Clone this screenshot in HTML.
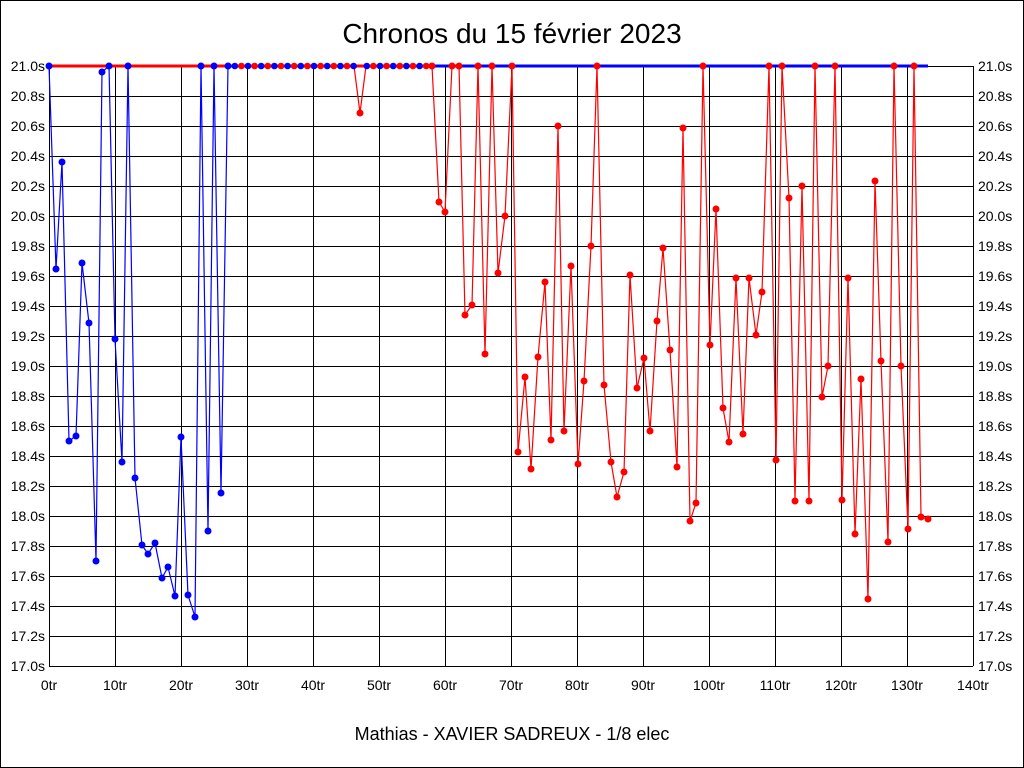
<!DOCTYPE html>
<html><head><meta charset="utf-8"><style>
html,body{margin:0;padding:0;background:#fff}
svg{display:block}
text{font-family:"Liberation Sans",sans-serif;font-size:14px;fill:#000}
</style></head><body>
<svg id="s" width="1024" height="768" viewBox="0 0 1024 768" xmlns="http://www.w3.org/2000/svg">
<rect x="0.5" y="0.5" width="1023" height="767" fill="#fff" stroke="#000"/>
<g id="grid"></g>
<text x="512" y="43" text-anchor="middle" style="font-size:28px">Chronos du 15 février 2023</text>
<text x="512" y="740" text-anchor="middle" style="font-size:18px">Mathias - XAVIER SADREUX - 1/8 elec</text>
<g text-anchor="end">
<text x="45" y="71">21.0s</text><text x="45" y="101">20.8s</text><text x="45" y="131">20.6s</text><text x="45" y="161">20.4s</text><text x="45" y="191">20.2s</text><text x="45" y="221">20.0s</text><text x="45" y="251">19.8s</text><text x="45" y="281">19.6s</text><text x="45" y="311">19.4s</text><text x="45" y="341">19.2s</text><text x="45" y="371">19.0s</text><text x="45" y="401">18.8s</text><text x="45" y="431">18.6s</text><text x="45" y="461">18.4s</text><text x="45" y="491">18.2s</text><text x="45" y="521">18.0s</text><text x="45" y="551">17.8s</text><text x="45" y="581">17.6s</text><text x="45" y="611">17.4s</text><text x="45" y="641">17.2s</text><text x="45" y="671">17.0s</text>
</g>
<g>
<text x="978" y="71">21.0s</text><text x="978" y="101">20.8s</text><text x="978" y="131">20.6s</text><text x="978" y="161">20.4s</text><text x="978" y="191">20.2s</text><text x="978" y="221">20.0s</text><text x="978" y="251">19.8s</text><text x="978" y="281">19.6s</text><text x="978" y="311">19.4s</text><text x="978" y="341">19.2s</text><text x="978" y="371">19.0s</text><text x="978" y="401">18.8s</text><text x="978" y="431">18.6s</text><text x="978" y="461">18.4s</text><text x="978" y="491">18.2s</text><text x="978" y="521">18.0s</text><text x="978" y="551">17.8s</text><text x="978" y="581">17.6s</text><text x="978" y="611">17.4s</text><text x="978" y="641">17.2s</text><text x="978" y="671">17.0s</text>
</g>
<g text-anchor="middle">
<text x="49" y="690">0tr</text><text x="115" y="690">10tr</text><text x="181" y="690">20tr</text><text x="247" y="690">30tr</text><text x="313" y="690">40tr</text><text x="379" y="690">50tr</text><text x="445" y="690">60tr</text><text x="511" y="690">70tr</text><text x="577" y="690">80tr</text><text x="643" y="690">90tr</text><text x="709" y="690">100tr</text><text x="775" y="690">110tr</text><text x="841" y="690">120tr</text><text x="907" y="690">130tr</text><text x="973" y="690">140tr</text>
</g>
<g id="data"></g>
</svg>
<script>
var NS="http://www.w3.org/2000/svg";
function el(p,t,a){var e=document.createElementNS(NS,t);for(var k in a)e.setAttribute(k,a[k]);p.appendChild(e);return e;}
var g=document.getElementById('grid');
for(var i=0;i<=20;i++){var y=66.5+i*30;el(g,'line',{x1:49,x2:973,y1:y,y2:y,stroke:'#000','stroke-width':1});}
for(var i=0;i<=14;i++){var x=49.5+i*66;el(g,'line',{x1:x,x2:x,y1:66,y2:666,stroke:'#000','stroke-width':1});}
var d=document.getElementById('data');
function X(i){return 49+6.6*i;}
var blue=[[49,66],[56,269],[62,162],[69,441],[76,436],[82,263],[89,323],[96,561],[102,72],[109,66],[115,339],[122,462],[128,66],[135,478],[142,545],[148,554],[155,543],[162,578],[168,567],[175,596],[181,437],[188,595],[195,617],[201,66],[208,531],[214,66],[221,493],[228,66]];
var red=[[432,66],[439,202],[445,212],[452,66],[459,66],[465,315],[472,305],[478,66],[485,354],[492,66],[498,273],[505,216],[512,66],[518,452],[525,377],[531,469],[538,357],[545,282],[551,440],[558,126],[564,431],[571,266],[578,464],[584,381],[591,246],[597,66],[604,385],[611,462],[617,497],[624,472],[630,275],[637,388],[644,358],[650,431],[657,321],[663,248],[670,350],[677,467],[683,128],[690,521],[696,503],[703,66],[710,345],[716,209],[723,408],[729,442],[736,278],[743,434],[749,278],[756,335],[762,292],[769,66],[776,460],[782,66],[789,198],[795,501],[802,186],[809,501],[815,66],[822,397],[828,366],[835,66],[842,500],[848,278],[855,534],[861,379],[868,599],[875,181],[881,361],[888,542],[894,66],[901,366],[908,529],[914,66],[921,517],[928,519]];
el(d,'line',{x1:49,x2:432,y1:66,y2:66,stroke:'#f00','stroke-width':3});
el(d,'line',{x1:432,x2:928,y1:66,y2:66,stroke:'#00f','stroke-width':3});
el(d,'polyline',{points:blue.map(function(p){return p.join(',')}).join(' '),fill:'none',stroke:'#00f','stroke-width':1.2});
el(d,'polyline',{points:red.map(function(p){return p.join(',')}).join(' '),fill:'none',stroke:'#f00','stroke-width':1.2});
el(d,'polyline',{points:'354,66 360,113 366,66',fill:'none',stroke:'#f00','stroke-width':1.2});
for(var i=28;i<=57;i++){if(i==47)continue;el(d,'circle',{cx:X(i)+1,cy:66,r:3.3,fill:(i%2?'#f00':'#00f')});}
el(d,'circle',{cx:360,cy:113,r:3.5,fill:'#f00'});
blue.forEach(function(p){el(d,'circle',{cx:p[0],cy:p[1],r:3.5,fill:'#00f'});});
red.forEach(function(p){el(d,'circle',{cx:p[0],cy:p[1],r:3.5,fill:'#f00'});});
</script>
</body></html>
